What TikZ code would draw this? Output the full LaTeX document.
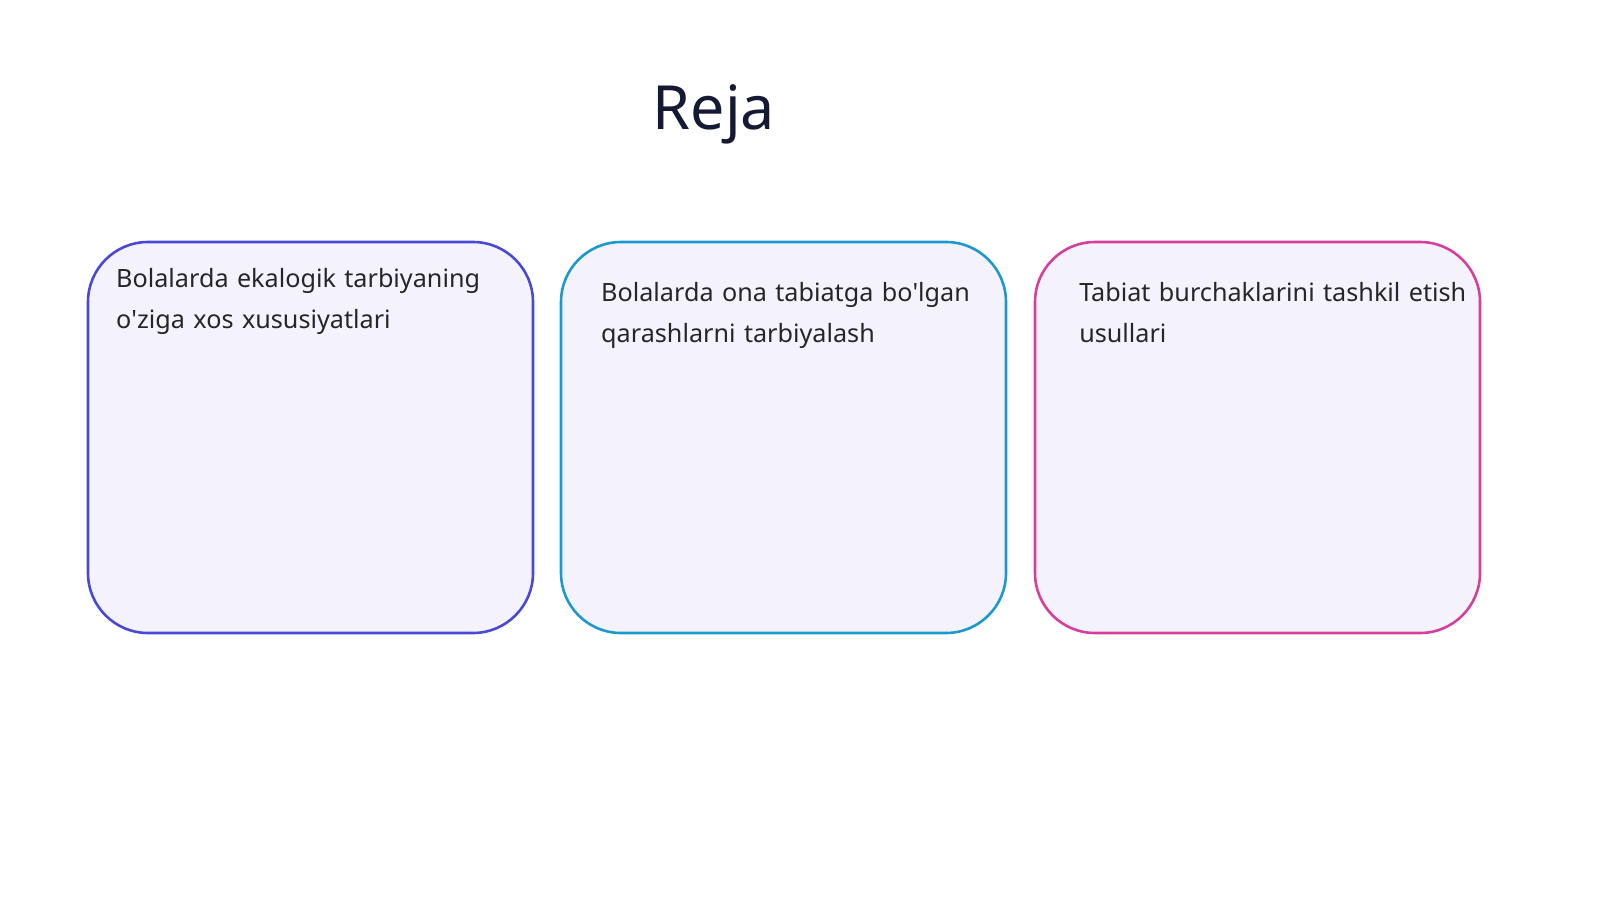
\documentclass[tikz,border=0pt]{standalone}
\usepackage{fontspec}
\setmainfont{Noto Sans}[Ligatures=ResetAll]
\definecolor{boxfill}{HTML}{F4F3FD}
\definecolor{violetline}{HTML}{4A48D6}
\definecolor{cyanline}{HTML}{1C98CF}
\definecolor{pinkline}{HTML}{D53E9C}
\definecolor{titletext}{HTML}{141A33}
\tikzset{
  card/.style={line width=2.2pt, fill=boxfill, rounded corners=1.8cm},
  cardtext/.style={anchor=north west, align=left, text width=13cm, inner sep=0pt,
    font=\fontsize{21.5}{35}\selectfont, text=black!85}
}
\begin{document}
\begin{tikzpicture}[x=0.03cm,y=-0.03cm]
    \useasboundingbox (0,0) rectangle (1600,900);

    \node[font=\fontsize{52}{60}\selectfont, text=titletext] (title) at (714,114) {Reja};

    \draw[card, draw=violetline] (88,242) rectangle (533,633);
    \draw[card, draw=cyanline] (561,242) rectangle (1006,633);
    \draw[card, draw=pinkline] (1035,242) rectangle (1480,633);

    \node[cardtext] (first) at (116,268) {Bolalarda ekalogik tarbiyaning\\o\textquotesingle ziga xos xususiyatlari};
    \node[cardtext] (second) at (601,282) {Bolalarda ona tabiatga bo\textquotesingle lgan\\qarashlarni tarbiyalash};
    \node[cardtext] (third) at (1079,282) {Tabiat burchaklarini tashkil etish\\usullari};
\end{tikzpicture}
\end{document}
